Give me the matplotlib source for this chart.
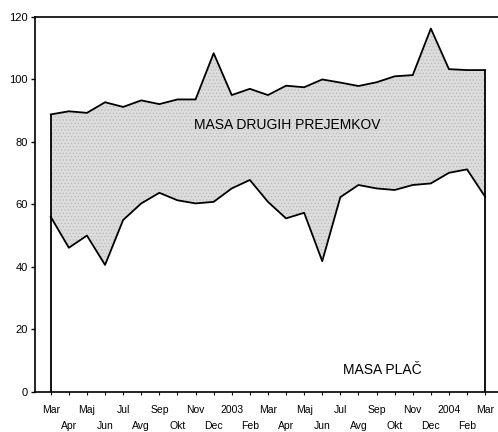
import numpy as np
import matplotlib
matplotlib.use("Agg")
import matplotlib.pyplot as plt

plt.rcParams['font.family'] = ['Liberation Sans', 'DejaVu Sans']
plt.rcParams['hatch.linewidth'] = 0.4

# --- data (monthly, Mar 2002 .. Mar 2004) ---
months = ["Mar", "Apr", "Maj", "Jun", "Jul", "Avg", "Sep", "Okt", "Nov", "Dec",
          "2003", "Feb", "Mar", "Apr", "Maj", "Jun", "Jul", "Avg", "Sep", "Okt",
          "Nov", "Dec", "2004", "Feb", "Mar"]

masa_plac = [56.0, 46.1, 50.0, 40.6, 55.0, 60.3, 63.7, 61.3, 60.3, 60.8,
             65.1, 67.8, 60.8, 55.5, 57.3, 41.8, 62.3, 66.2, 65.1, 64.6,
             66.2, 66.7, 70.1, 71.2, 62.4]

masa_skupaj = [88.8, 89.8, 89.3, 92.7, 91.2, 93.3, 92.1, 93.6, 93.6, 108.4,
               95.0, 97.0, 95.0, 98.0, 97.5, 100.0, 99.0, 97.9, 99.1, 101.0,
               101.4, 116.3, 103.3, 103.0, 103.0]

x = np.arange(len(months))

fig = plt.figure(figsize=(4.98, 4.32), dpi=100)
ax = fig.add_axes([35 / 498, 40.3 / 432, 463 / 498, 374.7 / 432])

# --- areas ---
ax.fill_between(x, masa_plac, masa_skupaj, facecolor='#dcdcdc',
                edgecolor='#b4b4b4', hatch='.....', linewidth=0)
ax.plot(x, masa_plac, color='black', linewidth=1.3)
ax.plot(x, masa_skupaj, color='black', linewidth=1.3)
ax.vlines([x[0], x[-1]], 0, [masa_skupaj[0], masa_skupaj[-1]],
          color='black', linewidth=1.3)

ax.text(13.05, 85.4, "MASA DRUGIH PREJEMKOV", ha='center', va='center',
        fontsize=10)
ax.text(18.3, 7.0, "MASA PLAČ", ha='center', va='center', fontsize=10)

# --- axes ---
ax.set_xlim(-0.87, 24.71)
ax.set_ylim(0, 120)
ax.spines['right'].set_visible(False)
for s in ['left', 'top', 'bottom']:
    ax.spines[s].set_linewidth(1.2)

ax.set_yticks(np.arange(0, 121, 20))
ax.tick_params(axis='y', direction='out', length=3, width=1, pad=2,
               labelsize=8)

ax.set_xticks(x[::2])
ax.set_xticklabels(months[::2])
ax.set_xticks(x[1::2], minor=True)
ax.set_xticklabels(months[1::2], minor=True)
ax.tick_params(axis='x', which='major', direction='out', length=2,
               width=0.8, pad=7.5, labelsize=7.5)
ax.tick_params(axis='x', which='minor', direction='out', length=2,
               width=0.8, pad=19, labelsize=7.5)

fig.savefig("out.png", dpi=100)
plt.close(fig)
